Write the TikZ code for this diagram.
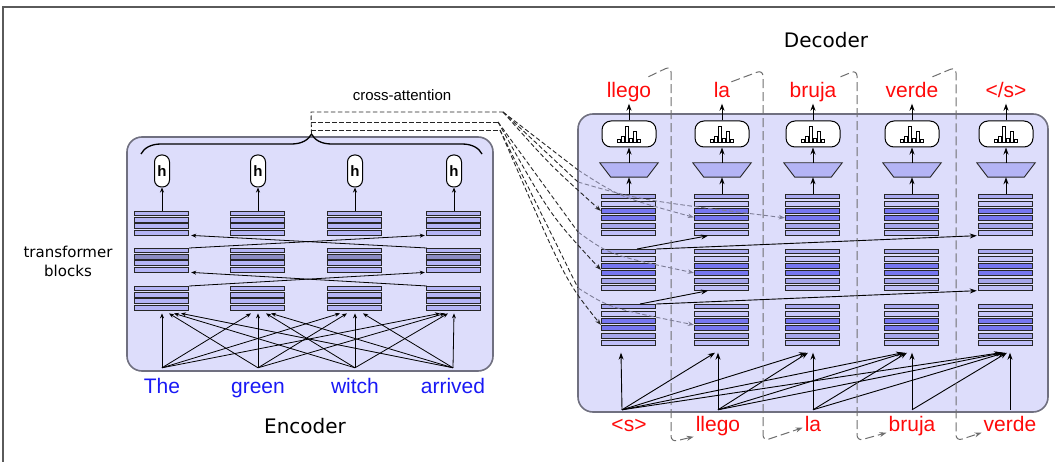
\documentclass[tikz,border=0pt]{standalone}
\usepackage{fontspec}
\setmainfont{Liberation Sans}
\newfontfamily\labfont{DejaVu Sans}
\usetikzlibrary{arrows.meta,calc,decorations.pathreplacing}

\definecolor{boxfill}{RGB}{221,221,251}
\definecolor{boxline}{RGB}{112,112,128}
\definecolor{barlight}{RGB}{180,180,245}
\definecolor{bargray}{RGB}{140,140,195}
\definecolor{dbarA}{RGB}{170,170,240}
\definecolor{dbarB}{RGB}{200,200,250}
\definecolor{dbarC}{RGB}{118,118,240}
\definecolor{dbarD}{RGB}{165,165,235}
\definecolor{dbarE}{RGB}{190,190,248}
\definecolor{wred}{RGB}{255,10,10}
\definecolor{wblue}{RGB}{25,25,245}
\definecolor{sepgray}{RGB}{110,110,110}
\definecolor{gline}{RGB}{125,125,150}
\definecolor{framec}{RGB}{90,90,90}

\tikzset{
  arr/.style={-{Stealth[length=5pt,width=4pt]}, line width=0.8pt, black},
  arrb/.style={-{Stealth[length=7pt,width=5pt]}, line width=0.9pt, black},
  boxst/.style={draw=boxline, fill=boxfill, line width=1.6pt, rounded corners=15pt, inner sep=0pt},
  blk/.style={inner sep=0pt, minimum width=54pt},
  barst/.style={draw=black!85, line width=0.8pt},
  hnode/.style={draw=black, fill=white, line width=1pt, rounded corners=7pt, minimum width=15pt, minimum height=32pt, inner sep=0pt, font=\fontsize{15}{15}\selectfont\bfseries},
  soft/.style={draw=black, fill=white, line width=1pt, rounded corners=9pt, minimum width=54pt, minimum height=26pt, inner sep=0pt},
  trapbox/.style={inner sep=0pt, minimum width=58pt, minimum height=14pt},
  trapdraw/.style={draw=black!85, fill=barlight, line width=0.9pt},
  redw/.style={text=wred, font=\fontsize{21}{21}\selectfont, inner sep=1pt, text height=15pt, text depth=4.5pt},
  bluew/.style={text=wblue, font=\fontsize{21}{21}\selectfont, inner sep=1pt, text height=15pt, text depth=4.5pt},
  xattn/.style={dash pattern=on 4.5pt off 2.5pt, line width=0.9pt, draw=black!85},
  xattng/.style={dash pattern=on 4.5pt off 2.5pt, line width=0.9pt, draw=gline},
  xarr/.style={-{Stealth[length=6pt,width=4.5pt]}},
  sepst/.style={dash pattern=on 9pt off 4pt, line width=1pt, draw=sepgray, rounded corners=6pt, -{Stealth[length=7pt,width=5pt]}},
}

\newcommand\encblk[4]{%
  \node[blk, minimum height=24pt, anchor=north] (#1) at (#2,#3) {};
  \foreach \k/\cc in {0/barlight,1/#4,2/barlight,3/barlight}{\draw[barst, fill=\cc] ($(#1.north west)+(0,\k*6.4)$) rectangle ++(54,4.8);}
}
\newcommand\decblk[3]{%
  \node[blk, minimum height=41.3pt, anchor=north] (#1) at (#2,#3) {};
  \foreach \k/\cc in {0/dbarA,1/dbarB,2/dbarC,3/dbarC,4/dbarD,5/dbarE}{\draw[barst, fill=\cc] ($(#1.north west)+(0,\k*7.3)$) rectangle ++(54,4.8);}
}
\newcommand\histo[1]{%
  \foreach \xo/\hh in {-12/3,-8/6,-4/16,0/4,4/11,8/3}{\draw[line width=0.6pt, fill=white] ($(#1.center)+(\xo,8)$) rectangle ++(3.5,-\hh);}
}

\begin{document}
\begin{tikzpicture}[x=1pt,y=-1pt]
\useasboundingbox (0,0) rectangle (1055,462);
\draw[draw=framec, line width=1.6pt] (3,7) rectangle (1070,480);

% boxes
\node[boxst, minimum width=366pt, minimum height=234pt] (encbox) at (310,254) {};
\node[boxst, minimum width=470pt, minimum height=298pt] (decbox) at (813,263) {};

% labels
\node[font=\labfont\fontsize{20}{20}\selectfont] (enclab) at (305,426) {Encoder};
\node[font=\labfont\fontsize{20}{20}\selectfont] (declab) at (826,40) {Decoder};
\node[font=\fontsize{15}{15}\selectfont] (xlab) at (402,95) {cross-attention};
\node[font=\labfont\fontsize{15}{19}\selectfont, align=center] (tblab) at (68,261) {transformer\\blocks};

% encoder blocks and h nodes
\foreach \c/\x in {1/162,2/258,3/355,4/454}{
  \encblk{e\c1}{\x}{286}{barlight}
  \encblk{e\c2}{\x}{248}{bargray}
  \encblk{e\c3}{\x}{211}{barlight}
  \node[hnode] (h\c) at (\x,171) {h};
  \draw[arr] (e\c3.north) -- (h\c.south);
}

% encoder words
\node[bluew, anchor=base] (wThe) at (162,393) {The};
\node[bluew, anchor=base] (wgreen) at (258,393) {green};
\node[bluew, anchor=base] (wwitch) at (355,393) {witch};
\node[bluew, anchor=base] (warrived) at (453,393) {arrived};

\foreach \s/\t/\o in {wThe/e11/0, wgreen/e11/7, wwitch/e11/12, warrived/e11/19,
                      wThe/e21/-7, wgreen/e21/0, wwitch/e21/8, warrived/e21/13,
                      wThe/e31/-15, wgreen/e31/-8, wwitch/e31/0, warrived/e31/8,
                      wThe/e41/-14, wgreen/e41/-9, wwitch/e41/-6, warrived/e41/0}{
  \draw[arr] ([yshift=9pt]\s.north) -- ([xshift=\o pt, yshift=-3pt]\t.south);
}

% encoder self-attention crossings
\draw[arr] (e11.north east) -- ([xshift=-2pt]e42.south west);
\draw[arr] (e41.north west) -- ([xshift=2pt]e12.south east);
\draw[arr] (e12.north east) -- ([xshift=-2pt]e43.south west);
\draw[arr] (e42.north west) -- ([xshift=2pt]e13.south east);

% brace
\draw[decorate, decoration={brace, amplitude=20pt}, line width=1.3pt] (141,154) -- (482,154);
\coordinate (bt) at (311.5,134);

% decoder columns
\foreach \c/\x in {1/629,2/722,3/813,4/912,5/1006}{
  \decblk{d\c1}{\x}{304}
  \decblk{d\c2}{\x}{249}
  \decblk{d\c3}{\x}{194}
  \node[trapbox] (t\c) at (\x,170) {};
  \draw[trapdraw] (t\c.north west) -- (t\c.north east) -- ([xshift=-11pt]t\c.south east) -- ([xshift=11pt]t\c.south west) -- cycle;
  \node[soft] (s\c) at (\x,134) {};
  \histo{s\c}
  \draw[arrb] (d\c3.north) -- (t\c.south);
  \draw[arrb] (t\c.north) -- (s\c.south);
}

% decoder output words
\node[redw, anchor=base] (o1) at (629,98) {llego};
\node[redw, anchor=base] (o2) at (722,98) {la};
\node[redw, anchor=base] (o3) at (813,98) {bruja};
\node[redw, anchor=base] (o4) at (912,98) {verde};
\node[redw, anchor=base] (o5) at (1006,98) {</s>};
\foreach \c in {1,...,5}{\draw[arrb] (s\c.north) -- (o\c.south);}

% decoder input words
\node[redw, anchor=base] (b0) at (629,431) {<s>};
\node[redw, anchor=base] (b1) at (718,431) {llego};
\node[redw, anchor=base] (b2) at (813,431) {la};
\node[redw, anchor=base] (b3) at (912,431) {bruja};
\node[redw, anchor=base] (b4) at (1010,431) {verde};

\foreach \s/\sx/\t/\o in {b0/-7/d11/-8,
   b0/-7/d21/-7, b1/0/d21/-4,
   b0/-7/d31/-7, b1/0/d31/-5, b2/0/d31/0,
   b0/-7/d41/-9, b1/0/d41/-7, b2/0/d41/-5, b3/0/d41/0,
   b0/-7/d51/-5, b1/0/d51/-3, b2/0/d51/-1, b3/0/d51/1, b4/0/d51/4}{
  \draw[arrb] ([xshift=\sx pt, yshift=5pt]\s.north) -- ([xshift=\o pt, yshift=-7pt]\t.south);
}

% decoder self-attention (causal) arrows
\draw[arrb] ([xshift=8pt]d12.north) -- ([xshift=-14pt]d23.south);
\draw[arrb] (d12.north east) -- ([xshift=-2pt]d53.south west);
\draw[arrb] ([xshift=11pt]d11.north) -- ([xshift=-14pt]d22.south);
\draw[arrb] (d11.north east) -- ([xshift=-2pt]d52.south west);

% separators feeding outputs back as inputs
\draw[sepst] ([xshift=-4pt,yshift=5pt]o1.north east) -- (671,66) -- (671,442) -- ([xshift=-1pt,yshift=-11pt]b1.west);
\draw[sepst] (o2.north east) -- (763,70) -- (763,441) -- ([xshift=-1pt,yshift=-2pt]b2.west);
\draw[sepst] ([xshift=3pt,yshift=5pt]o3.north east) -- (857,70) -- (857,441) -- ([xshift=-1pt,yshift=-7pt]b3.west);
\draw[sepst] ([xshift=-7pt,yshift=5pt]o4.north east) -- (956,67) -- (956,441) -- ([xshift=-1pt,yshift=-7pt]b4.west);

% cross-attention
\coordinate (V1) at (311,112);
\coordinate (V2) at (311,122);
\coordinate (V3) at (311,130);
\coordinate (S1) at (503,112);
\coordinate (S2) at (498,122);
\coordinate (S3) at (500,130);
\draw[xattn] (bt) -- (V1) -- (S1);
\draw[xattn] (V2) -- (S2);
\draw[xattn] (V3) -- (S3);

\coordinate (E1) at (578,170);
\coordinate (E1b) at (578,182);
\coordinate (E2) at (578,232);
\coordinate (E3) at (578,288);
\draw[xattn] (S1) -- (E1);
\draw[xattn] (S1) -- (E1b);
\draw[xattn] (S2) -- (E2);
\draw[xattn] (S3) -- (E3);
\draw[xattng, xarr] (E1) .. controls (620,197) .. ([xshift=-1pt,yshift=-2.5pt]d23.west);
\draw[xattng, xarr] (E1b) .. controls (640,200) .. ([xshift=-1pt,yshift=-3pt]d33.west);
\draw[xattng, xarr] (E2) .. controls (610,255) .. ([xshift=-1pt,yshift=-3pt]d22.west);
\draw[xattng, xarr] (E3) .. controls (610,308) .. ([xshift=-1pt]d21.west);

\draw[xattn, xarr] (S1) .. controls (550,165) .. ([xshift=-1pt,yshift=4pt]d13.west);
\draw[xattn, xarr] (S2) .. controls (550,215) .. ([xshift=-1pt]d12.west);
\draw[xattn, xarr] (S3) .. controls (565,280) .. ([xshift=-1pt]d11.west);
\end{tikzpicture}
\end{document}
